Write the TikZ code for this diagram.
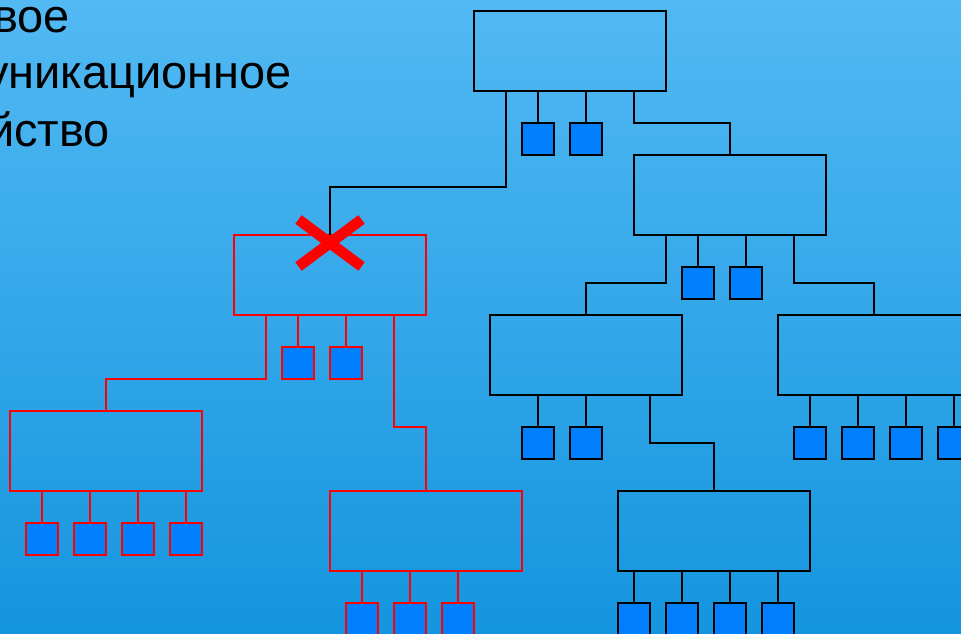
\documentclass[tikz,border=0pt]{standalone}
\usepackage{fontspec}
\setmainfont{Liberation Sans}
\usetikzlibrary{calc}
\definecolor{bgtop}{RGB}{82,185,243}
\definecolor{bgbot}{RGB}{20,149,223}
\definecolor{sqblue}{RGB}{0,128,255}
\tikzset{
  box/.style={draw=black, line width=1.5pt, minimum width=144pt, minimum height=60pt, inner sep=0pt, outer sep=0pt},
  rbox/.style={box, draw=red},
  sq/.style={draw=black, fill=sqblue, line width=1.5pt, minimum size=24pt, inner sep=0pt, outer sep=0pt},
  rsq/.style={sq, draw=red},
  wire/.style={draw=black, line width=1.5pt},
  rwire/.style={wire, draw=red},
  lbl/.style={font=\fontsize{35.2}{42}\selectfont, inner sep=0pt, anchor=base east}
}
\begin{document}
\begin{tikzpicture}[x=0.75pt, y=-0.75pt]
\useasboundingbox (0,0) rectangle (961,634);
\clip (0,0) rectangle (961,634);
\shade[top color=bgtop, bottom color=bgbot] (0,0) rectangle (961,634);

% caption text (cut off at the left edge, as in the reference)
\node[lbl] (t1) at (70,33) {вое};
\node[lbl] (t2) at (292,89) {уникационное};
\node[lbl] (t3) at (110,147) {йство};

% boxes
\node[box]  (A) at (570,51)  {};
\node[box]  (B) at (730,195) {};
\node[box]  (D) at (586,355) {};
\node[box]  (E) at (874,355) {};
\node[box]  (F) at (714,531) {};
\node[rbox] (C) at (330,275) {};
\node[rbox] (G) at (106,451) {};
\node[rbox] (H) at (426,531) {};

% squares
\node[sq] (a1) at (538,139) {};
\node[sq] (a2) at (586,139) {};
\node[sq] (b1) at (698,283) {};
\node[sq] (b2) at (746,283) {};
\node[sq] (d1) at (538,443) {};
\node[sq] (d2) at (586,443) {};
\node[sq] (e1) at (810,443) {};
\node[sq] (e2) at (858,443) {};
\node[sq] (e3) at (906,443) {};
\node[sq] (e4) at (954,443) {};
\node[sq] (f1) at (634,619) {};
\node[sq] (f2) at (682,619) {};
\node[sq] (f3) at (730,619) {};
\node[sq] (f4) at (778,619) {};
\node[rsq] (c1) at (298,363) {};
\node[rsq] (c2) at (346,363) {};
\node[rsq] (g1) at (42,539) {};
\node[rsq] (g2) at (90,539) {};
\node[rsq] (g3) at (138,539) {};
\node[rsq] (g4) at (186,539) {};
\node[rsq] (h1) at (362,619) {};
\node[rsq] (h2) at (410,619) {};
\node[rsq] (h3) at (458,619) {};

% stubs
\foreach \s/\b in {a1/A,a2/A,b1/B,b2/B,d1/D,d2/D,e1/E,e2/E,e3/E,e4/E,f1/F,f2/F,f3/F,f4/F}
  \draw[wire] (\s.north |- \b.south) -- (\s.north);
\foreach \s/\b in {c1/C,c2/C,g1/G,g2/G,g3/G,g4/G,h1/H,h2/H,h3/H}
  \draw[rwire] (\s.north |- \b.south) -- (\s.north);

% connections between boxes
\draw[wire] ([xshift=-24pt]A.south east) -- ++(0,32) -| (B.north);
\draw[wire] ([xshift=24pt]A.south west) -- ++(0,96) -| (C.north);
\draw[wire] ([xshift=24pt]B.south west) -- ++(0,48) -| (D.north);
\draw[wire] ([xshift=-24pt]B.south east) -- ++(0,48) -| (E.north);
\draw[wire] ([xshift=-24pt]D.south east) -- ++(0,48) -| (F.north);
\draw[rwire] ([xshift=24pt]C.south west) -- ++(0,64) -| (G.north);
\draw[rwire] ([xshift=-24pt]C.south east) -- ++(0,112) -| (H.north);

% failure cross
\coordinate (xc) at (330,243);
\draw[red, line width=8pt] ($(xc)+(-31.5,-23.5)$) -- ($(xc)+(31.5,23.5)$);
\draw[red, line width=8pt] ($(xc)+(-31.5,23.5)$) -- ($(xc)+(31.5,-23.5)$);
\end{tikzpicture}
\end{document}
